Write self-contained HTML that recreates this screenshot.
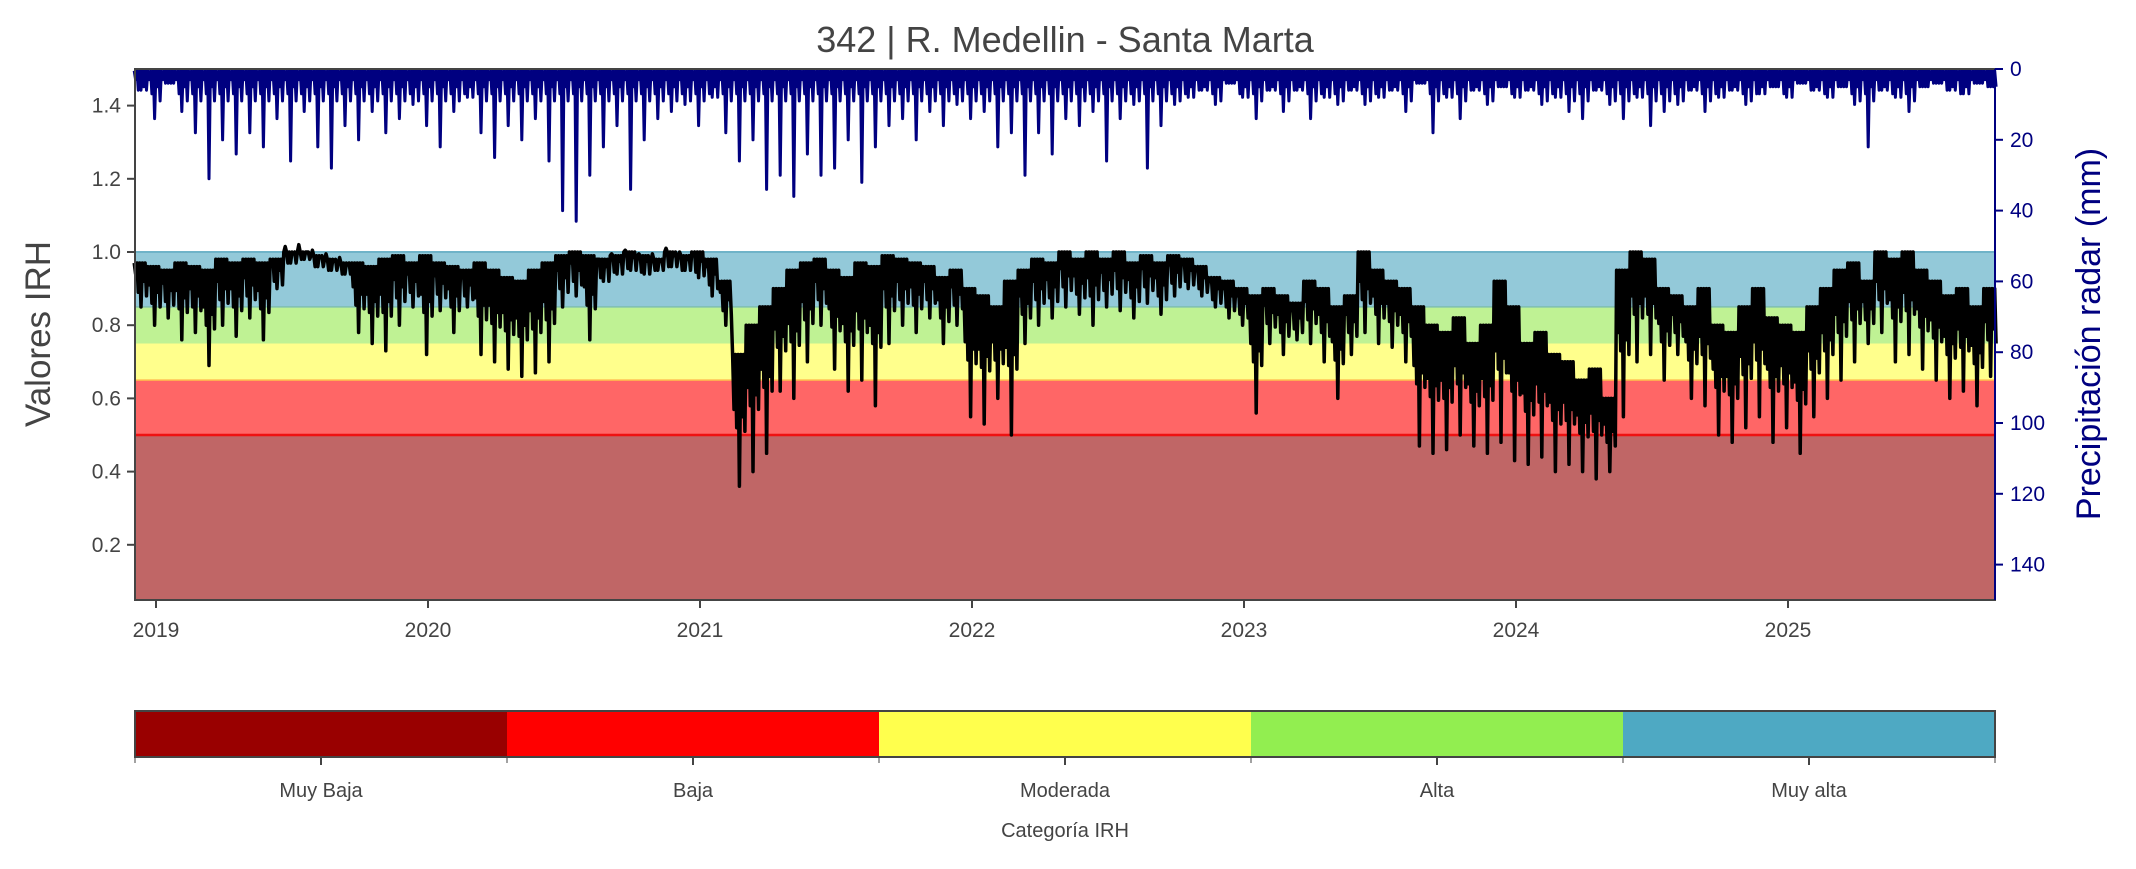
<!DOCTYPE html>
<html><head><meta charset="utf-8"><style>
body{margin:0;background:#fff}
svg text{font-family:"Liberation Sans",sans-serif}
</style></head><body>
<svg id="chart" width="2136" height="864" viewBox="0 0 2136 864" xmlns="http://www.w3.org/2000/svg">
<text x="1065" y="52" text-anchor="middle" font-size="36" fill="#444">342 | R. Medellin - Santa Marta</text>
<g id="bands"></g>
<g id="series"></g>
<g id="axes"></g>
<text transform="translate(50,334) rotate(-90)" text-anchor="middle" font-size="35" fill="#444">Valores IRH</text>
<text transform="translate(2100,334) rotate(-90)" text-anchor="middle" font-size="34" fill="#000080">Precipitación radar (mm)</text>
<g id="cbar"></g>
<text x="1065" y="837" text-anchor="middle" font-size="20" fill="#444">Categoría IRH</text>
</svg>
<script>
const irhHigh=[.97,.96,.95,.97,.96,.95,.98,.97,.98,.97,.98,1.0,1.0,.99,.98,.97,.97,.96,.98,.99,.97,.99,.97,.96,.95,.97,.95,.93,.92,.95,.97,.99,1.0,.99,.98,.99,1.0,.99,.98,1.0,.99,1.0,.98,.92,.72,.80,.85,.90,.95,.97,.98,.95,.93,.97,.96,.99,.98,.97,.96,.93,.95,.90,.88,.85,.92,.95,.98,.97,1.0,.98,1.0,.98,1.0,.97,.99,.97,.99,.98,.96,.93,.92,.90,.88,.90,.88,.86,.92,.90,.85,.88,1.0,.95,.92,.90,.85,.80,.78,.82,.75,.80,.92,.85,.75,.78,.72,.70,.65,.68,.60,.95,1.0,.98,.90,.88,.85,.90,.80,.78,.85,.90,.82,.80,.78,.85,.90,.95,.97,.92,1.0,.98,1.0,.95,.92,.88,.90,.85,.90];
const irhLow=[.85,.80,.82,.76,.78,.69,.80,.77,.82,.76,.90,.97,.98,.96,.95,.94,.78,.75,.73,.80,.85,.72,.84,.78,.85,.72,.70,.68,.66,.67,.70,.85,.88,.76,.92,.94,.95,.94,.95,.96,.95,.93,.88,.80,.36,.40,.45,.62,.60,.70,.80,.68,.62,.65,.58,.75,.80,.78,.82,.75,.80,.55,.53,.60,.50,.75,.80,.82,.85,.83,.80,.85,.84,.82,.86,.83,.88,.90,.88,.85,.82,.80,.56,.75,.72,.76,.75,.70,.60,.72,.78,.75,.74,.70,.47,.45,.46,.50,.47,.45,.48,.43,.42,.44,.40,.42,.40,.38,.40,.55,.70,.72,.65,.72,.60,.58,.50,.48,.52,.55,.48,.52,.45,.55,.60,.65,.70,.75,.78,.70,.72,.68,.65,.60,.62,.58,.66];
const precip=[6,14,4,12,18,31,20,24,18,22,14,26,12,22,28,16,20,12,18,14,10,16,22,12,8,18,25,16,20,14,26,40,43,30,22,16,34,20,14,12,10,16,8,18,26,20,34,30,36,24,30,28,20,32,22,16,14,20,12,16,10,14,12,22,18,30,18,24,14,16,12,26,14,10,28,16,10,8,6,10,4,8,14,6,12,6,14,8,10,6,10,8,6,12,4,18,8,14,6,10,5,8,6,10,8,12,14,6,10,14,8,16,12,10,6,12,8,6,10,7,5,8,4,6,8,5,10,22,6,8,12,5,4,6,7,4,5];
const yearTicks=[2019,2020,2021,2022,2023,2024,2025];
const irhTicks=[0.2,0.4,0.6,0.8,1.0,1.2,1.4];
const precipTicks=[0,20,40,60,80,100,120,140];
const bandEdges=[0.05,0.5,0.65,0.75,0.85,1.0];
const bandColors=['#c06666','#ff6666','#ffff8c','#bff294','#93c9d9'];
const catLabels=['Muy Baja','Baja','Moderada','Alta','Muy alta'];
const catColors=['#990000','#ff0000','#ffff4d','#92ee50','#4ea9c3'];
const startYear=2018.92, stepYear=0.05;

const NS='http://www.w3.org/2000/svg';
const L=135,R=1995,T=69,B=600;
const X=t=>156+(t-2019)*272;
const Y=v=>252-(v-1)*366;
const P=m=>T+m*3.54;
function mk(tag,attrs,parent){const e=document.createElementNS(NS,tag);for(const k in attrs)e.setAttribute(k,attrs[k]);parent.appendChild(e);return e;}
const bands=document.getElementById('bands'),series=document.getElementById('series'),axes=document.getElementById('axes'),cbar=document.getElementById('cbar');
for(let i=0;i<bandColors.length;i++){
  const r=mk('rect',{x:L,y:Y(bandEdges[i+1]),width:R-L,height:Y(bandEdges[i])-Y(bandEdges[i+1]),fill:bandColors[i]},bands);
  
  
}
let l=mk('line',{x1:L,x2:R,y1:Y(1.0),y2:Y(1.0),stroke:'#6fb3c8','stroke-width':2},bands);

l=mk('line',{x1:L,x2:R,y1:Y(0.85),y2:Y(0.85),stroke:'#7fbfb0','stroke-width':1.5},bands);

l=mk('line',{x1:L,x2:R,y1:Y(0.65),y2:Y(0.65),stroke:'#ffb84d','stroke-width':1.5},bands);

l=mk('line',{x1:L,x2:R,y1:Y(0.5),y2:Y(0.5),stroke:'#ee1111','stroke-width':2.5},bands);


const sub=5;
// precipitation: one main spike to the step peak plus small dense spikes near baseline
let d='';
for(let i=0;i<precip.length;i++){
  const t=startYear+i*stepYear;
  for(let k=0;k<sub;k++){
    const ta=t+stepYear*k/sub, tb=t+stepYear*(k+0.5)/sub;
    const pk=(k===2)?precip[i]:Math.min(precip[i],[3,7,0,5,9][k]);
    d+=((i||k)?'L':'M')+X(ta).toFixed(1)+','+P(0.5).toFixed(1)+'L'+X(tb).toFixed(1)+','+P(pk).toFixed(1);
  }
}
let p=mk('path',{d:d,fill:'none',stroke:'#000080','stroke-width':3,'stroke-linejoin':'round'},series);

// irh: oscillates between the step's high and low values
d='';
for(let i=0;i<irhHigh.length;i++){
  const t=startYear+i*stepYear;
  for(let k=0;k<sub;k++){
    const ta=t+stepYear*k/sub, tb=t+stepYear*(k+0.5)/sub;
    const lo=(k===2)?irhLow[i]:Math.max(irhLow[i],(irhHigh[i]+irhLow[i])/2+[0.03,-0.02,0,0.01,-0.03][k]);
    d+=((i||k)?'L':'M')+X(ta).toFixed(1)+','+Y(irhHigh[i]).toFixed(1)+'L'+X(tb).toFixed(1)+','+Y(lo).toFixed(1);
  }
}
p=mk('path',{d:d,fill:'none',stroke:'#000','stroke-width':3.5,'stroke-linejoin':'round'},series);


// frame
let f=mk('rect',{x:L,y:T,width:R-L,height:B-T,fill:'none',stroke:'#444','stroke-width':2},axes);

l=mk('line',{x1:R,x2:R,y1:T,y2:B,stroke:'#000080','stroke-width':2},axes);

yearTicks.forEach(y=>{
  const t=mk('line',{x1:X(y),x2:X(y),y1:B,y2:B+8,stroke:'#444','stroke-width':2},axes);
  
  const tx=mk('text',{x:X(y),y:B+37,'text-anchor':'middle','font-size':21,fill:'#444'},axes);tx.textContent=y;
  
});
irhTicks.forEach(v=>{
  const t=mk('line',{x1:L-8,x2:L,y1:Y(v),y2:Y(v),stroke:'#444','stroke-width':2},axes);
  
  const tx=mk('text',{x:L-14,y:Y(v)+7,'text-anchor':'end','font-size':21,fill:'#444'},axes);tx.textContent=v.toFixed(1);
  
});
precipTicks.forEach(v=>{
  const t=mk('line',{x1:R,x2:R+8,y1:P(v),y2:P(v),stroke:'#000080','stroke-width':2},axes);
  
  const tx=mk('text',{x:R+15,y:P(v)+7,'text-anchor':'start','font-size':21,fill:'#000080'},axes);tx.textContent=v;
  
});
// colorbar
const cw=(R-L)/catColors.length;
catColors.forEach((c,i)=>{
  const r=mk('rect',{x:L+i*cw,y:711,width:cw,height:46,fill:c},cbar);
  
  const t=mk('line',{x1:L+(i+0.5)*cw,x2:L+(i+0.5)*cw,y1:757,y2:765,stroke:'#444','stroke-width':2},cbar);
  
  const tx=mk('text',{x:L+(i+0.5)*cw,y:797,'text-anchor':'middle','font-size':20,fill:'#444'},cbar);tx.textContent=catLabels[i];
  
});
for(let i=0;i<=catColors.length;i++){
  const t=mk('line',{x1:L+i*cw,x2:L+i*cw,y1:757,y2:763,stroke:'#444','stroke-width':1},cbar);
  
}
let cf=mk('rect',{x:L,y:711,width:R-L,height:46,fill:'none',stroke:'#444','stroke-width':2},cbar);

</script>
</body></html>
